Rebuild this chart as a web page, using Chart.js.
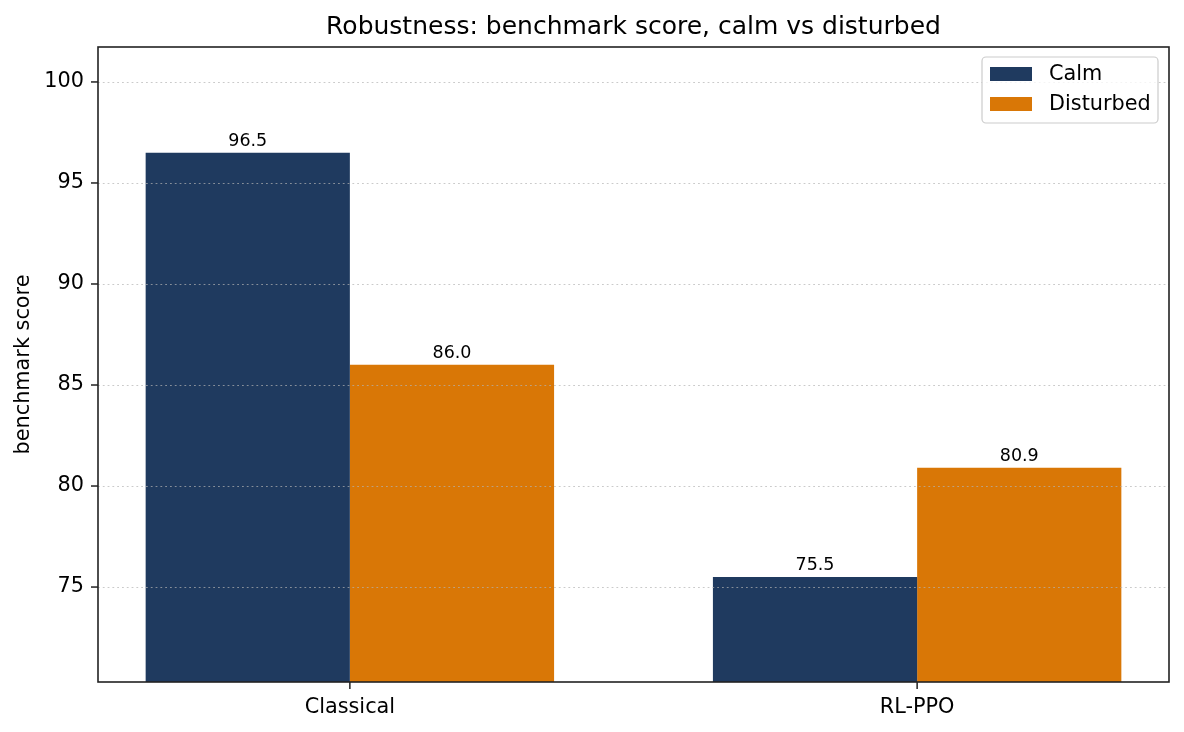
<!DOCTYPE html>
<html>
<head>
<meta charset="utf-8">
<script src="https://cdn.jsdelivr.net/npm/chart.js@4.4.1/dist/chart.umd.min.js"></script>
<style>
  html, body { margin: 0; padding: 0; background: #ffffff; }
  #wrap { width: 1184px; height: 732px; }
</style>
</head>
<body>
<div id="wrap"><canvas id="myChart" width="1184" height="732"></canvas></div>
<script>
const categories = ["Classical", "RL-PPO"];
const seriesNames = ["Calm", "Disturbed"];
const calmScores = [96.5, 75.5];
const disturbedScores = [86.0, 80.9];
const yTicks = [75, 80, 85, 90, 95, 100];

const chartTitle = "Robustness: benchmark score, calm vs disturbed";
const yTitle = "benchmark score";

const colCalm = "#1f3a5f";
const colDist = "#d97706";
const fontFam = "'DejaVu Sans', sans-serif";

const yMin = 70.3;
const yMax = 101.73;
const xMin = -0.444;
const xMax = 1.444;

const ctx = document.getElementById("myChart");

// frame, dotted grid (over the bars) and tick marks
const decorPlugin = {
    id: "decor",
    afterDatasetsDraw(chart) {
        const c = chart.ctx;
        const a = chart.chartArea;
        const ys = chart.scales.y;
        const xs = chart.scales.x;

        c.save();
        c.strokeStyle = "rgba(180,180,180,0.7)";
        c.lineWidth = 1.2;
        c.setLineDash([1.8, 3]);
        yTicks.forEach(v => {
            const py = Math.round(ys.getPixelForValue(v)) + 0.5;
            c.beginPath();
            c.moveTo(a.left, py);
            c.lineTo(a.right, py);
            c.stroke();
        });
        c.setLineDash([]);

        c.strokeStyle = "#222222";
        c.lineWidth = 1.6;
        c.strokeRect(a.left, a.top, a.right - a.left, a.bottom - a.top);

        c.lineWidth = 1.5;
        yTicks.forEach(v => {
            const py = ys.getPixelForValue(v);
            c.beginPath();
            c.moveTo(a.left, py);
            c.lineTo(a.left - 7, py);
            c.stroke();
        });
        categories.forEach((n, i) => {
            const px = xs.getPixelForValue(i);
            c.beginPath();
            c.moveTo(px, a.bottom);
            c.lineTo(px, a.bottom + 7);
            c.stroke();
        });
        c.restore();
    },
    afterDraw(chart) {
        const c = chart.ctx;
        const a = chart.chartArea;

        c.save();
        // title
        c.fillStyle = "#000000";
        c.font = "25px " + fontFam;
        c.textAlign = "center";
        c.textBaseline = "alphabetic";
        c.fillText(chartTitle, (a.left + a.right) / 2, 34);

        // value labels
        c.font = "17.5px " + fontFam;
        chart.data.datasets.forEach((ds, di) => {
            const meta = chart.getDatasetMeta(di);
            meta.data.forEach((bar, i) => {
                c.fillText(ds.data[i].y.toFixed(1), bar.x, bar.y - 7);
            });
        });

        // legend box
        const lx = a.right - 187, ly = a.top + 10, lw = 176, lh = 66;
        c.fillStyle = "rgba(255,255,255,0.8)";
        c.strokeStyle = "#cccccc";
        c.lineWidth = 1.2;
        c.beginPath();
        c.roundRect(lx, ly, lw, lh, 4);
        c.fill();
        c.stroke();

        c.font = "20.8px " + fontFam;
        c.textAlign = "left";
        c.textBaseline = "middle";
        chart.data.datasets.forEach((ds, di) => {
            const cy = ly + 17 + di * 30;
            c.fillStyle = ds.backgroundColor;
            c.fillRect(lx + 8, cy - 7, 42, 14);
            c.fillStyle = "#000000";
            c.fillText(ds.label, lx + 67, cy + 1);
        });
        c.restore();
    }
};

new Chart(ctx, {
    type: "bar",
    data: {
        datasets: [
            {
                label: seriesNames[0],
                data: calmScores.map((v, i) => ({ x: i, y: v })),
                backgroundColor: colCalm,
                borderWidth: 0,
                base: yMin,
                categoryPercentage: 0.72,
                barPercentage: 1.0
            },
            {
                label: seriesNames[1],
                data: disturbedScores.map((v, i) => ({ x: i, y: v })),
                backgroundColor: colDist,
                borderWidth: 0,
                base: yMin,
                categoryPercentage: 0.72,
                barPercentage: 1.0
            }
        ]
    },
    plugins: [decorPlugin],
    options: {
        responsive: false,
        animation: false,
        devicePixelRatio: 1,
        layout: {
            padding: { left: 0, right: 15, top: 47, bottom: 0 }
        },
        plugins: {
            legend: { display: false },
            title: { display: false },
            tooltip: { enabled: false }
        },
        scales: {
            x: {
                type: "linear",
                min: xMin,
                max: xMax,
                offset: false,
                afterFit: s => { s.height = 50; },
                afterBuildTicks: s => { s.ticks = categories.map((n, i) => ({ value: i })); },
                grid: { display: false, offset: false, drawTicks: true, tickLength: 7 },
                border: { display: false },
                ticks: {
                    color: "#000000",
                    font: { family: fontFam, size: 20.8 },
                    padding: 6,
                    maxRotation: 0,
                    autoSkip: false,
                    callback: v => categories[v]
                }
            },
            y: {
                min: yMin,
                max: yMax,
                afterFit: s => { s.width = 98; },
                afterBuildTicks: s => { s.ticks = yTicks.map(v => ({ value: v })); },
                grid: { display: false, drawTicks: true, tickLength: 7 },
                border: { display: false },
                ticks: {
                    color: "#000000",
                    font: { family: fontFam, size: 20.8 },
                    padding: 7,
                    callback: v => String(v)
                },
                title: {
                    display: true,
                    text: yTitle,
                    color: "#000000",
                    font: { family: fontFam, size: 20.8 },
                    padding: { top: 11, bottom: 0 }
                }
            }
        }
    }
});
</script>
</body>
</html>
